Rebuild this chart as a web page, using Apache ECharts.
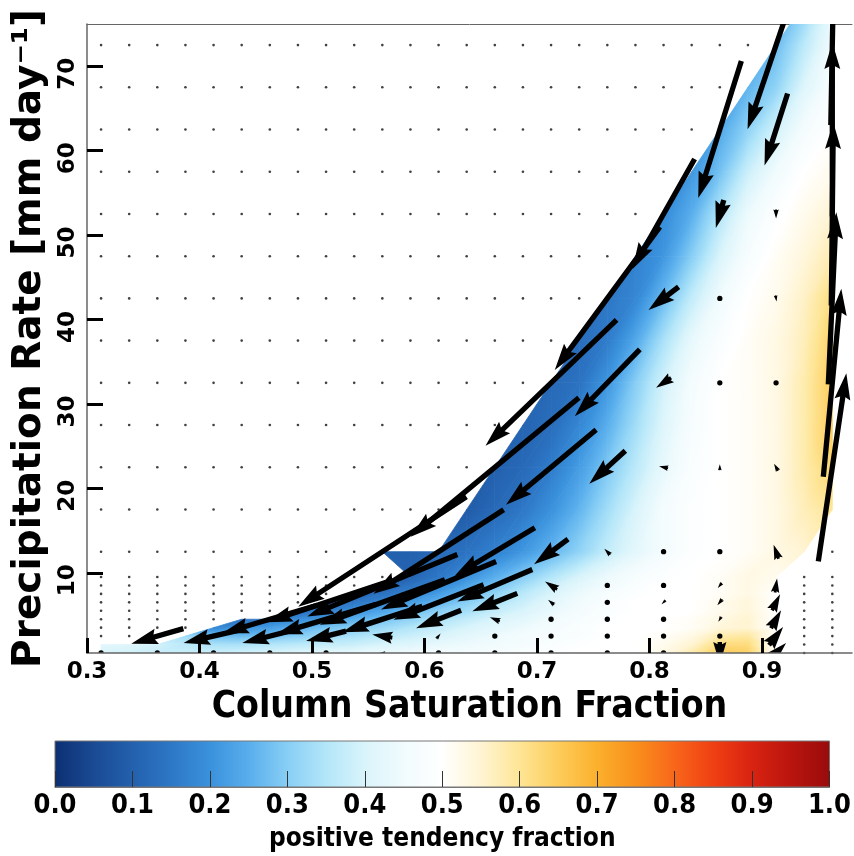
<!DOCTYPE html>
<html>
<head>
<meta charset="utf-8">
<script src="https://cdn.jsdelivr.net/npm/echarts@6/dist/echarts.min.js"></script>
<style>
  html, body { margin: 0; padding: 0; background: #fff; }
  #main { width: 854px; height: 856px; }
</style>
</head>
<body>
<div id="main"></div>
<script>
const _ = null;

// fine grid of the shaded field (column saturation fraction x precipitation rate)
const fieldX = [0.3125, 0.3375, 0.3625, 0.3875, 0.4125, 0.4375, 0.4625, 0.4875, 0.5125, 0.5375,
  0.5625, 0.5875, 0.6125, 0.6375, 0.6625, 0.6875, 0.7125, 0.7375, 0.7625, 0.7875,
  0.8125, 0.8375, 0.8625, 0.8875, 0.9125, 0.9375, 0.9625];
const fieldY = [0.5, 1.5, 2.5, 3.5, 4.5, 5.5, 6.5, 7.5, 8.5, 9.5,
  12.5, 17.5, 22.5, 27.5, 32.5, 37.5, 42.5, 47.5, 52.5, 57.5, 62.5, 67.5, 72.5, 77.5];

// positive tendency fraction, one row per fieldY (bottom to top), null = no data
const field = [
  [.40,.39,.38,.38,.38,.39,.40,.41,.42,.43,.44,.45,.46,.46,.47,.48,.49,.50,.50,.50,.53,.58,.65,.64,.50,_,_],
  [.42,.41,.39,.36,.34,.34,.35,.36,.37,.38,.40,.41,.43,.44,.45,.46,.48,.49,.50,.50,.52,.55,.62,.62,.50,_,_],
  [_,_,_,.33,.28,.27,.28,.30,.32,.34,.36,.38,.40,.42,.44,.46,.47,.48,.50,.50,.51,.53,.58,.59,.50,_,_],
  [_,_,_,_,.18,.20,.22,.25,.28,.30,.32,.35,.37,.40,.42,.44,.46,.48,.50,.50,.50,.51,.54,.55,.50,_,_],
  [_,_,_,_,_,.14,.16,.19,.22,.25,.28,.31,.34,.37,.40,.42,.45,.47,.49,.50,.50,.51,.53,.55,.50,_,_],
  [_,_,_,_,_,_,_,.13,.16,.20,.23,.27,.30,.33,.37,.40,.43,.46,.48,.50,.50,.50,.52,.54,.50,_,_],
  [_,_,_,_,_,_,_,_,.12,.15,.18,.22,.26,.30,.34,.38,.42,.45,.48,.50,.50,.50,.52,.54,.50,_,_],
  [_,_,_,_,_,_,_,_,_,.11,.14,.18,.22,.27,.31,.36,.40,.44,.47,.49,.50,.50,.51,.53,.50,_,_],
  [_,_,_,_,_,_,_,_,_,_,.11,.14,.18,.23,.28,.33,.38,.42,.45,.48,.50,.50,.51,.53,.51,_,_],
  [_,_,_,_,_,_,_,_,_,_,_,.11,.15,.20,.25,.30,.35,.40,.44,.47,.49,.50,.51,.53,.52,_,_],
  [_,_,_,_,_,_,_,_,_,_,.10,.10,.12,.14,.17,.21,.26,.31,.37,.42,.46,.49,.50,.51,.53,.55,_],
  [_,_,_,_,_,_,_,_,_,_,_,_,_,.09,.12,.15,.20,.26,.33,.40,.46,.49,.50,.51,.53,.57,.60],
  [_,_,_,_,_,_,_,_,_,_,_,_,_,_,.10,.12,.16,.22,.29,.36,.43,.48,.50,.51,.53,.58,.63],
  [_,_,_,_,_,_,_,_,_,_,_,_,_,_,_,.11,.13,.18,.25,.33,.41,.47,.50,.51,.53,.58,.65],
  [_,_,_,_,_,_,_,_,_,_,_,_,_,_,_,_,.12,.14,.21,.30,.39,.46,.50,.51,.53,.58,.65],
  [_,_,_,_,_,_,_,_,_,_,_,_,_,_,_,_,_,.13,.16,.24,.34,.43,.48,.51,.53,.57,.64],
  [_,_,_,_,_,_,_,_,_,_,_,_,_,_,_,_,_,_,.15,.18,.27,.37,.45,.50,.52,.56,.62],
  [_,_,_,_,_,_,_,_,_,_,_,_,_,_,_,_,_,_,_,.17,.21,.30,.40,.47,.51,.54,.58],
  [_,_,_,_,_,_,_,_,_,_,_,_,_,_,_,_,_,_,_,_,.19,.25,.35,.44,.49,.52,.55],
  [_,_,_,_,_,_,_,_,_,_,_,_,_,_,_,_,_,_,_,_,_,.21,.28,.38,.45,.50,.52],
  [_,_,_,_,_,_,_,_,_,_,_,_,_,_,_,_,_,_,_,_,_,_,.24,.31,.39,.46,.50],
  [_,_,_,_,_,_,_,_,_,_,_,_,_,_,_,_,_,_,_,_,_,_,_,.26,.31,.41,.47],
  [_,_,_,_,_,_,_,_,_,_,_,_,_,_,_,_,_,_,_,_,_,_,_,_,.27,.36,.45],
  [_,_,_,_,_,_,_,_,_,_,_,_,_,_,_,_,_,_,_,_,_,_,_,_,_,.30,.42]
];

// coarse grid of the tendency vectors
const arrowX = [0.3125, 0.3625, 0.4125, 0.4625, 0.5125, 0.5625, 0.6125, 0.6625, 0.7125, 0.7625,
  0.8125, 0.8625, 0.9125, 0.9625];
const arrowY = [0.5, 2.5, 4.5, 6.5, 8.5, 12.5, 22.5, 32.5, 42.5, 52.5, 62.5, 72.5];

// d(CSF) per arrow
const arrowU = [
  [0, 0, 0, 0, 0, -0.0053, -0.0036, -0.0027, 0, 0, 0.0036, 0, 0.0178, _],
  [_, -0.0463, -0.0534, -0.0489, -0.0356, -0.0178, 0.0036, 0, 0, 0, -0.0018, 0.0044, 0.0125, _],
  [_, _, _, -0.0845, -0.089, -0.0712, -0.04, -0.0089, 0, 0, 0, -0.0027, 0.0089, _],
  [_, _, _, _, -0.1068, -0.1112, -0.0801, -0.04, -0.0053, 0, -0.0036, -0.0044, 0.0071, _],
  [_, _, _, _, _, -0.1334, -0.1023, -0.0667, -0.0107, 0, -0.0027, -0.0036, 0.0018, _],
  [_, _, _, _, _, -0.1495, -0.1157, -0.0712, -0.0302, -0.0053, 0, -0.0027, -0.0044, _],
  [_, _, _, _, _, _, _, -0.1495, -0.0801, -0.032, -0.008, 0, -0.0036, 0.0249],
  [_, _, _, _, _, _, _, _, -0.1165, -0.0578, -0.0133, 0, 0, 0.016],
  [_, _, _, _, _, _, _, _, _, -0.0934, -0.0267, 0, 0.0009, 0.0071],
  [_, _, _, _, _, _, _, _, _, _, -0.0552, -0.0071, 0, 0.0018],
  [_, _, _, _, _, _, _, _, _, _, _, -0.0383, -0.0205, 0],
  [_, _, _, _, _, _, _, _, _, _, _, _, -0.0507, 0.0027]
];
// d(P) per arrow
const arrowV = [
  [0, 0, 0, 0, 0, 0, 0.24, 0.12, 0, 0, -0.24, -2.61, 2.37, _],
  [_, -1.78, -1.66, -1.66, -1.18, 0.36, 0.59, 0, 0, 0, -0.47, -0.12, 2.13, _],
  [_, _, _, -3.32, -3.55, -3.08, -2.13, 0.47, 0, 0, 0, -0.59, 2.13, _],
  [_, _, _, _, -4.74, -5.33, -4.15, -2.13, 0.59, 0, -0.47, -0.71, 1.9, _],
  [_, _, _, _, _, -7.35, -5.69, -3.79, 0.95, 0, -0.47, -0.59, 1.66, _],
  [_, _, _, _, _, -13.03, -9.95, -5.69, -2.96, 0.71, 0, -0.36, 1.66, _],
  [_, _, _, _, _, _, _, -16.47, -8.89, -3.91, 0.24, 0.71, 0.83, 22.27],
  [_, _, _, _, _, _, _, _, -14.93, -7.94, -1.18, 0, 0, 22.27],
  [_, _, _, _, _, _, _, _, _, -16.94, -2.73, 0, -0.71, 20.38],
  [_, _, _, _, _, _, _, _, _, _, -13.03, -3.32, -1.07, 21.68],
  [_, _, _, _, _, _, _, _, _, _, _, -16.23, -8.53, 20.62],
  [_, _, _, _, _, _, _, _, _, _, _, _, -19.91, 18.96]
];

const xTicks = [0.3, 0.4, 0.5, 0.6, 0.7, 0.8, 0.9];
const yTicks = [10, 20, 30, 40, 50, 60, 70];
const cbarTicks = [0, 0.1, 0.2, 0.3, 0.4, 0.5, 0.6, 0.7, 0.8, 0.9, 1];

// blue - white - orange - red colour map, stops every 0.05
const cmap = ['#0c2f72', '#1a4a93', '#2360ad', '#2d77c6', '#3a91dc', '#58aeec', '#87cef5', '#b3e6f9',
  '#d9f4fb', '#f1fbfd', '#ffffff', '#fff4d2', '#fee595', '#fdcc5a', '#fbb02c', '#f98f1c',
  '#f8661a', '#ef3f13', '#d82311', '#b9150e', '#990b0b'];

const SHAFT = 5.3;
const BOLD = "'DejaVu Sans', sans-serif";
const COND = "'DejaVu Sans Condensed', 'DejaVu Sans', sans-serif";

function hexRgb(h) {
  return [parseInt(h.slice(1, 3), 16), parseInt(h.slice(3, 5), 16), parseInt(h.slice(5, 7), 16)];
}
const cmapRgb = cmap.map(hexRgb);

function cmapColor(v) {
  const t = Math.max(0, Math.min(1, v)) * (cmap.length - 1);
  const i = Math.min(Math.floor(t), cmap.length - 2);
  const f = t - i;
  const a = cmapRgb[i], b = cmapRgb[i + 1];
  return 'rgb(' + [0, 1, 2].map(k => Math.round(a[k] + (b[k] - a[k]) * f)).join(',') + ')';
}

// linear shading across one triangle -> global linear gradient
function triFill(p, f) {
  const fmin = Math.min(f[0], f[1], f[2]), fmax = Math.max(f[0], f[1], f[2]);
  const e1x = p[1][0] - p[0][0], e1y = p[1][1] - p[0][1];
  const e2x = p[2][0] - p[0][0], e2y = p[2][1] - p[0][1];
  const det = e1x * e2y - e1y * e2x;
  if (Math.abs(det) < 1e-9 || fmax - fmin < 1e-4) return cmapColor((fmin + fmax) / 2);
  const d1 = f[1] - f[0], d2 = f[2] - f[0];
  const gx = (d1 * e2y - d2 * e1y) / det;
  const gy = (d2 * e1x - d1 * e2x) / det;
  const k = (fmax - fmin) / (gx * gx + gy * gy);
  const s = p[f.indexOf(fmin)];
  const stops = [];
  for (let i = 0; i <= 6; i++) {
    stops.push({ offset: i / 6, color: cmapColor(fmin + (fmax - fmin) * i / 6) });
  }
  return new echarts.graphic.LinearGradient(s[0], s[1], s[0] + gx * k, s[1] + gy * k, stops, true);
}

// triangles of the shaded field
const triangles = [];
for (let r = 0; r < fieldY.length - 1; r++) {
  for (let c = 0; c < fieldX.length - 1; c++) {
    const A = [fieldX[c], fieldY[r], field[r][c]];
    const B = [fieldX[c + 1], fieldY[r], field[r][c + 1]];
    const C = [fieldX[c], fieldY[r + 1], field[r + 1][c]];
    const D = [fieldX[c + 1], fieldY[r + 1], field[r + 1][c + 1]];
    const ok = [A, B, D, C].filter(q => q[2] !== null);
    if (ok.length === 4) {
      triangles.push(A.concat(B, D), A.concat(D, C));
    } else if (ok.length === 3) {
      triangles.push(ok[0].concat(ok[1], ok[2]));
    }
  }
}

// small dots where there is no data
const gridDots = [];
fieldY.forEach((y, r) => fieldX.forEach((x, c) => {
  if (field[r][c] === null) gridDots.push([x, y]);
}));

const arrows = [];
arrowY.forEach((y, r) => arrowX.forEach((x, c) => {
  if (arrowU[r][c] !== null) arrows.push([x, y, arrowU[r][c], arrowV[r][c]]);
}));

function renderTri(params, api) {
  const pts = [], vals = [];
  for (let i = 0; i < 3; i++) {
    pts.push(api.coord([api.value(3 * i), api.value(3 * i + 1)]));
    vals.push(api.value(3 * i + 2));
  }
  const fill = triFill(pts, vals);
  return {
    type: 'polygon',
    shape: { points: pts },
    style: { fill: fill, stroke: fill, lineWidth: 0.8 }
  };
}

// quiver arrow, pivot in the middle, head sizes in shaft widths
function renderArrow(params, api) {
  const x = api.value(0), y = api.value(1), u = api.value(2), v = api.value(3);
  const c = api.coord([x, y]);
  const a = api.coord([x - u / 2, y - v / 2]);
  const b = api.coord([x + u / 2, y + v / 2]);
  const dx = b[0] - a[0], dy = b[1] - a[1];
  const px = Math.hypot(dx, dy);
  const len = px / SHAFT;
  if (len < 1) {
    return { type: 'circle', shape: { cx: c[0], cy: c[1], r: SHAFT / 2 }, style: { fill: '#000' } };
  }
  let X = [0, len - 4.5, len - 5, len, len - 5, len - 4.5, 0];
  let Y = [0.5, 0.5, 1.5, 0, -1.5, -0.5, -0.5];
  if (len < 5) {
    const s = len / 5;
    X = [0, 0.5, 0, 5, 0, 0.5, 0].map(t => t * s);
    Y = Y.map(t => t * s);
  }
  const cos = dx / px, sin = dy / px;
  const pts = X.map((lx, i) => {
    const sx = (lx - len / 2) * SHAFT, sy = Y[i] * SHAFT;
    return [c[0] + sx * cos - sy * sin, c[1] + sx * sin + sy * cos];
  });
  return { type: 'polygon', shape: { points: pts }, style: { fill: '#000' } };
}

function renderBar(params, api) {
  const p0 = api.coord([0, 0]);
  const p1 = api.coord([1, 1]);
  const stops = cmap.map((col, i) => ({ offset: i / (cmap.length - 1), color: col }));
  return {
    type: 'rect',
    shape: { x: p0[0], y: p1[1], width: p1[0] - p0[0], height: p0[1] - p1[1] },
    style: { fill: new echarts.graphic.LinearGradient(0, 0, 1, 0, stops), stroke: '#777', lineWidth: 1 }
  };
}

const chart = echarts.init(document.getElementById('main'));

chart.setOption({
  animation: false,
  backgroundColor: '#fff',
  grid: [
    { left: 87, right: 2, top: 24, bottom: 203 },
    { left: 55, right: 22, top: 741, height: 46 }
  ],
  xAxis: [
    {
      type: 'value', gridIndex: 0, min: 0.3, max: 0.98, z: 10,
      axisLine: { lineStyle: { color: '#666', width: 1.5 } },
      axisTick: { inside: true, length: 15, customValues: xTicks, lineStyle: { color: '#000', width: 3 } },
      axisLabel: {
        customValues: xTicks, formatter: v => v.toFixed(1), margin: 8,
        fontSize: 23, fontWeight: 'bold', fontFamily: BOLD, color: '#000'
      },
      splitLine: { show: false },
      name: 'Column Saturation Fraction', nameLocation: 'middle', nameGap: 36,
      nameTextStyle: { fontSize: 37, fontWeight: 'bold', fontFamily: COND, color: '#000' }
    },
    {
      type: 'value', gridIndex: 0, position: 'top', min: 0.3, max: 0.98,
      axisLine: { lineStyle: { color: '#666', width: 1 } },
      axisTick: { show: false }, axisLabel: { show: false }, splitLine: { show: false }
    },
    {
      type: 'value', gridIndex: 1, min: 0, max: 1, z: 10,
      axisLine: { lineStyle: { color: '#777', width: 1 } },
      axisTick: { inside: true, length: 16, customValues: cbarTicks, lineStyle: { color: '#333', width: 1 } },
      axisLabel: {
        customValues: cbarTicks, formatter: v => v.toFixed(1), margin: 5,
        fontSize: 27, fontWeight: 'bold', fontFamily: COND, color: '#000'
      },
      splitLine: { show: false },
      name: 'positive tendency fraction', nameLocation: 'middle', nameGap: 39,
      nameTextStyle: { fontSize: 26, fontWeight: 'bold', fontFamily: COND, color: '#000' }
    }
  ],
  yAxis: [
    {
      type: 'value', gridIndex: 0, min: 0.5, max: 75, z: 10,
      axisLine: { show: true, lineStyle: { color: '#666', width: 1.5 } },
      axisTick: { show: true, inside: true, length: 16, customValues: yTicks, lineStyle: { color: '#000', width: 3 } },
      axisLabel: {
        customValues: yTicks, rotate: 90, margin: 7, padding: [0, 15, 0, 0],
        fontSize: 23, fontWeight: 'bold', fontFamily: BOLD, color: '#000'
      },
      splitLine: { show: false },
      name: 'Precipitation Rate [mm day\u207B\u00B9]', nameLocation: 'middle', nameGap: 32,
      nameTextStyle: { fontSize: 39, fontWeight: 'bold', fontFamily: BOLD, color: '#000' }
    },
    { type: 'value', gridIndex: 1, min: 0, max: 1, show: false }
  ],
  series: [
    {
      name: 'field', type: 'custom', xAxisIndex: 0, yAxisIndex: 0, clip: true, silent: true, z: 1,
      renderItem: renderTri, data: triangles
    },
    {
      name: 'grid', type: 'scatter', xAxisIndex: 0, yAxisIndex: 0, clip: true, silent: true, z: 2,
      symbol: 'circle', symbolSize: 2.6, itemStyle: { color: '#111' }, data: gridDots
    },
    {
      name: 'tendency', type: 'custom', xAxisIndex: 0, yAxisIndex: 0, clip: true, silent: true, z: 3,
      renderItem: renderArrow, data: arrows
    },
    {
      name: 'colorbar', type: 'custom', xAxisIndex: 2, yAxisIndex: 1, silent: true, z: 1,
      renderItem: renderBar, data: [[0, 0]]
    }
  ]
});
</script>
</body>
</html>
